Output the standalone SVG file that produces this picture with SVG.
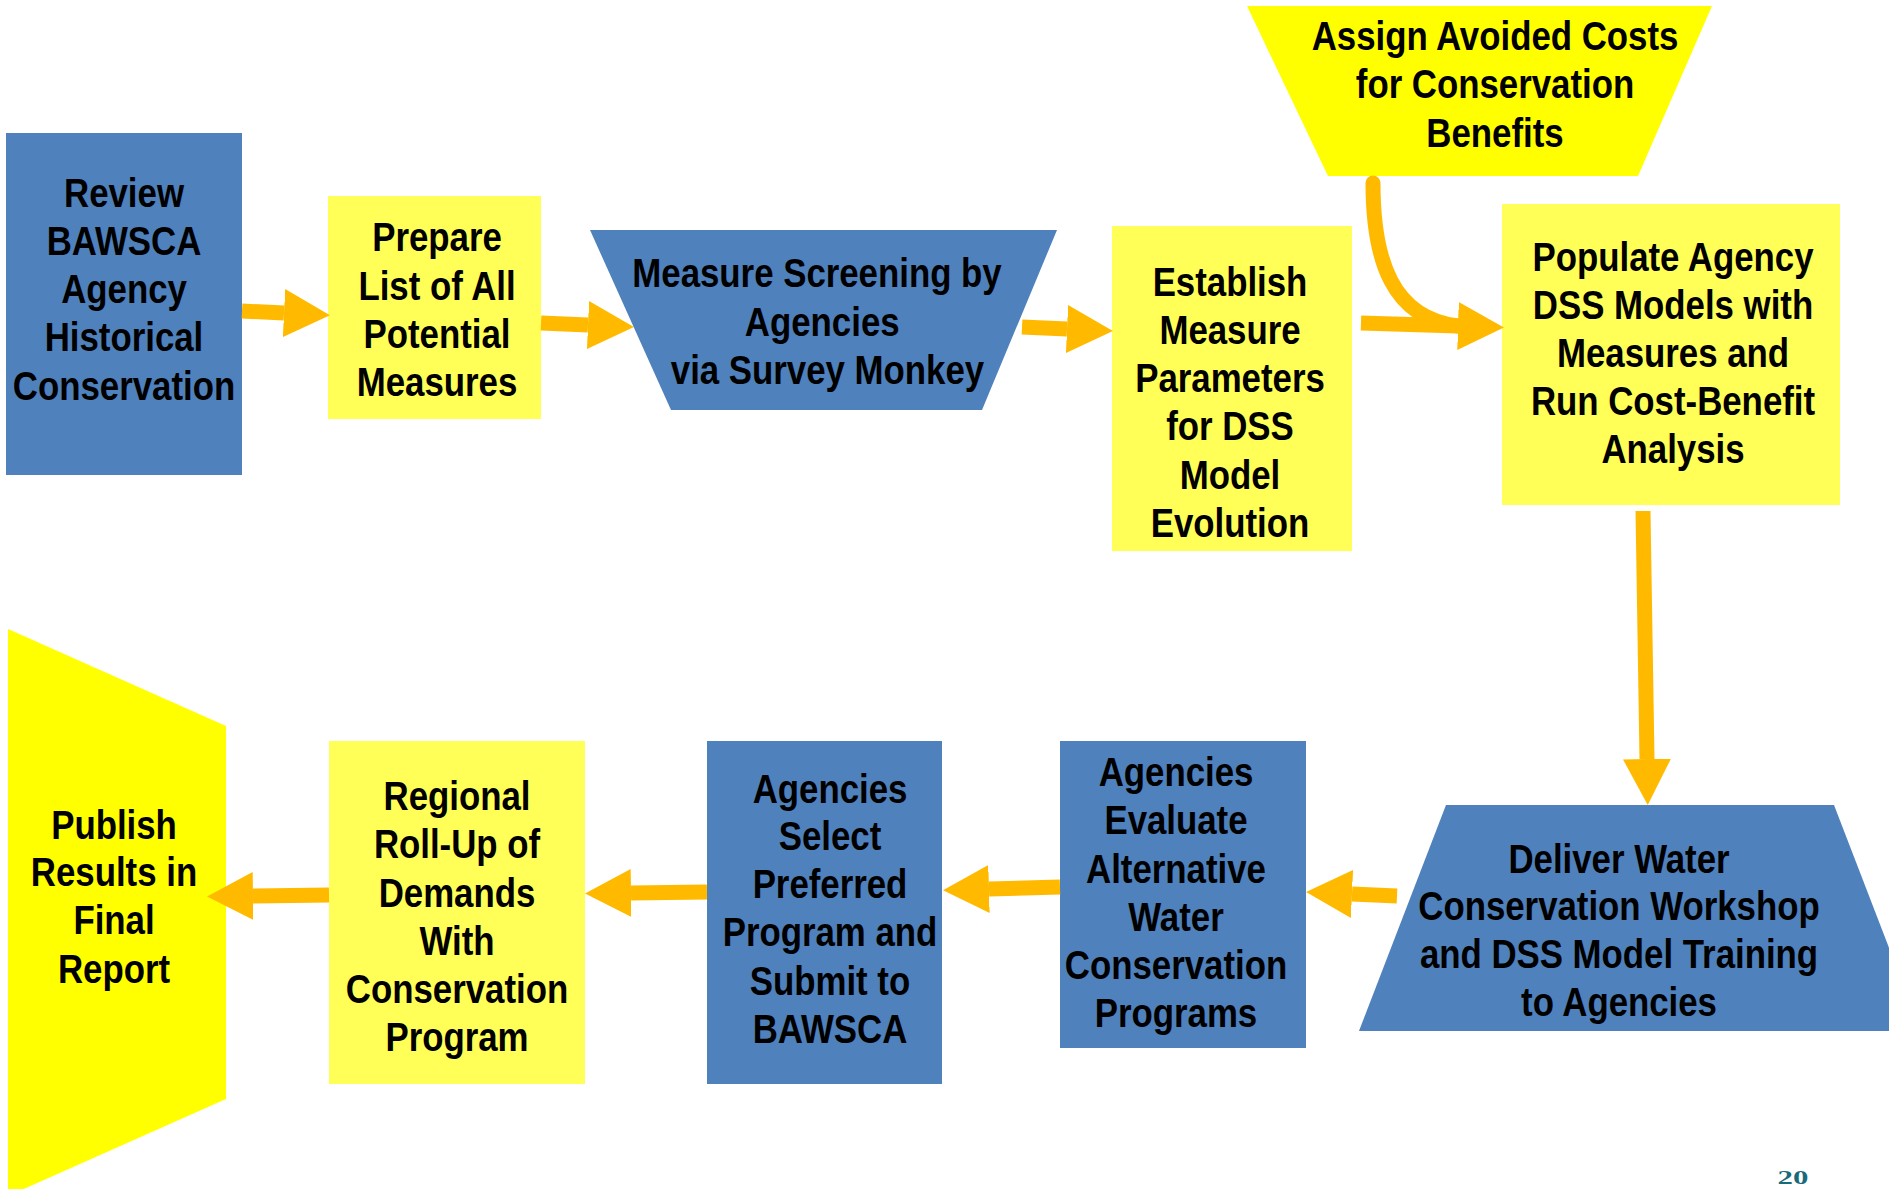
<svg xmlns="http://www.w3.org/2000/svg" width="1889" height="1189" viewBox="0 0 1889 1189">
<style>
.blue{fill:#4F81BD}
.yel{fill:#FFFF57}
.yel2{fill:#FFFF00}
.t{font-family:"Liberation Sans",Arial,sans-serif;font-weight:bold;font-size:40px;fill:#000;text-anchor:middle}
.c{stroke:#FFBA00;stroke-width:15;fill:none}
.pg{font-family:"Liberation Serif","Times New Roman",serif;font-weight:bold;font-size:28px;fill:#1A6A7A;text-anchor:middle}
</style>
<defs>
<marker id="ah" markerUnits="userSpaceOnUse" markerWidth="46" markerHeight="50" refX="0" refY="25" orient="auto" viewBox="0 0 46 50">
<path d="M0,1 L46,25 L0,49 z" fill="#FFBA00"/>
</marker>
</defs>
<rect width="1889" height="1189" fill="#fff"/>

<g id="n1">
<rect class="blue" x="6" y="133" width="236" height="342"/>
<g transform="translate(124,0) scale(0.87,1)">
<text class="t" x="0" y="207">Review</text>
<text class="t" x="0" y="255">BAWSCA</text>
<text class="t" x="0" y="303">Agency</text>
<text class="t" x="0" y="351">Historical</text>
<text class="t" x="0" y="400">Conservation</text>
</g>
</g>

<g id="n2">
<rect class="yel" x="328" y="196" width="213" height="223"/>
<g transform="translate(437,0) scale(0.87,1)">
<text class="t" x="0" y="251">Prepare</text>
<text class="t" x="0" y="300">List of All</text>
<text class="t" x="0" y="348">Potential</text>
<text class="t" x="0" y="396">Measures</text>
</g>
</g>

<g id="n3">
<polygon class="blue" points="590,230 1057,230 982,410 671,410"/>
<g transform="translate(817,0) scale(0.87,1)">
<text class="t" x="0" y="287">Measure Screening by</text>
<text class="t" x="6" y="336">Agencies</text>
<text class="t" x="12" y="384">via Survey Monkey</text>
</g>
</g>

<g id="n4">
<rect class="yel" x="1112" y="226" width="240" height="325"/>
<g transform="translate(1230,0) scale(0.87,1)">
<text class="t" x="0" y="296">Establish</text>
<text class="t" x="0" y="344">Measure</text>
<text class="t" x="0" y="392">Parameters</text>
<text class="t" x="0" y="440">for DSS</text>
<text class="t" x="0" y="489">Model</text>
<text class="t" x="0" y="537">Evolution</text>
</g>
</g>

<g id="n5">
<polygon class="yel2" points="1247,6 1712,6 1638,176 1328,176"/>
<g transform="translate(1495,0) scale(0.87,1)">
<text class="t" x="0" y="50">Assign Avoided Costs</text>
<text class="t" x="0" y="98">for Conservation</text>
<text class="t" x="0" y="147">Benefits</text>
</g>
</g>

<g id="n6">
<rect class="yel" x="1502" y="204" width="338" height="301"/>
<g transform="translate(1673,0) scale(0.87,1)">
<text class="t" x="0" y="271">Populate Agency</text>
<text class="t" x="0" y="319">DSS Models with</text>
<text class="t" x="0" y="367">Measures and</text>
<text class="t" x="0" y="415">Run Cost-Benefit</text>
<text class="t" x="0" y="463">Analysis</text>
</g>
</g>

<g id="n7">
<polygon class="blue" points="1446,805 1834,805 1921,1031 1359,1031"/>
<g transform="translate(1619,0) scale(0.87,1)">
<text class="t" x="0" y="873">Deliver Water</text>
<text class="t" x="0" y="920">Conservation Workshop</text>
<text class="t" x="0" y="968">and DSS Model Training</text>
<text class="t" x="0" y="1016">to Agencies</text>
</g>
</g>

<g id="n8">
<rect class="blue" x="1060" y="741" width="246" height="307"/>
<g transform="translate(1176,0) scale(0.87,1)">
<text class="t" x="0" y="786">Agencies</text>
<text class="t" x="0" y="834">Evaluate</text>
<text class="t" x="0" y="883">Alternative</text>
<text class="t" x="0" y="931">Water</text>
<text class="t" x="0" y="979">Conservation</text>
<text class="t" x="0" y="1027">Programs</text>
</g>
</g>

<g id="n9">
<rect class="blue" x="707" y="741" width="235" height="343"/>
<g transform="translate(830,0) scale(0.87,1)">
<text class="t" x="0" y="803">Agencies</text>
<text class="t" x="0" y="850">Select</text>
<text class="t" x="0" y="898">Preferred</text>
<text class="t" x="0" y="946">Program and</text>
<text class="t" x="0" y="995">Submit to</text>
<text class="t" x="0" y="1043">BAWSCA</text>
</g>
</g>

<g id="n10">
<rect class="yel" x="329" y="741" width="256" height="343"/>
<g transform="translate(457,0) scale(0.87,1)">
<text class="t" x="0" y="810">Regional</text>
<text class="t" x="0" y="858">Roll-Up of</text>
<text class="t" x="0" y="907">Demands</text>
<text class="t" x="0" y="955">With</text>
<text class="t" x="0" y="1003">Conservation</text>
<text class="t" x="0" y="1051">Program</text>
</g>
</g>

<g id="n11">
<polygon class="yel2" points="8,629 226,726 226,1099 8,1196"/>
<g transform="translate(114,0) scale(0.87,1)">
<text class="t" x="0" y="839">Publish</text>
<text class="t" x="0" y="886">Results in</text>
<text class="t" x="0" y="934">Final</text>
<text class="t" x="0" y="983">Report</text>
</g>
</g>

<g id="connectors">
<line class="c" x1="242" y1="311" x2="284" y2="313" marker-end="url(#ah)"/>
<line class="c" x1="541" y1="323" x2="588" y2="325" marker-end="url(#ah)"/>
<line class="c" x1="1022" y1="327" x2="1067" y2="329" marker-end="url(#ah)"/>
<line class="c" x1="1361" y1="323" x2="1458" y2="326" marker-end="url(#ah)"/>
<path class="c" d="M1373,183 C1373,260 1392,318 1458,326" stroke-linecap="round"/>
<line class="c" x1="1643" y1="511" x2="1647" y2="759" marker-end="url(#ah)"/>
<line class="c" x1="1397" y1="896" x2="1352" y2="894" marker-end="url(#ah)"/>
<line class="c" x1="1060" y1="887" x2="989" y2="889" marker-end="url(#ah)"/>
<line class="c" x1="707" y1="892" x2="631" y2="893" marker-end="url(#ah)"/>
<line class="c" x1="329" y1="895" x2="253" y2="896" marker-end="url(#ah)"/>
</g>

<g transform="translate(1793,1184) scale(1.1,0.7)">
<text class="pg" x="0" y="0">20</text>
</g>
</svg>
